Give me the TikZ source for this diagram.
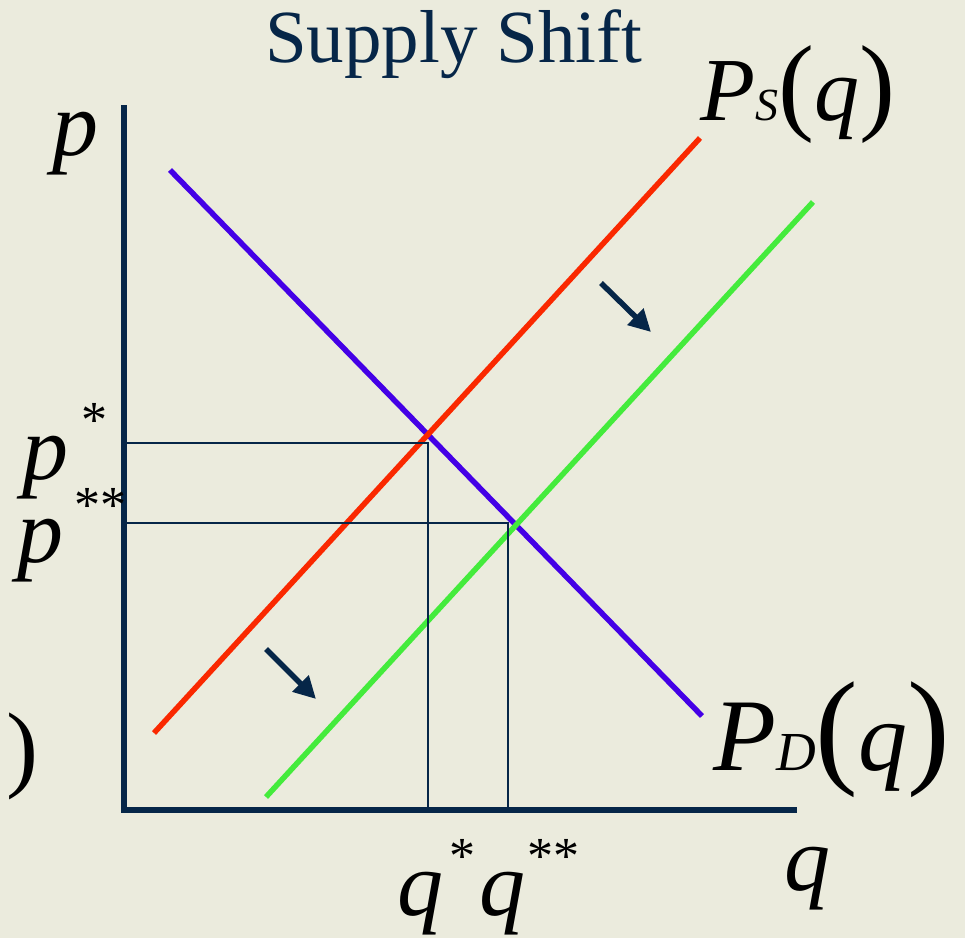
\documentclass[tikz,border=0pt]{standalone}
\usepackage{fontspec}
\setmainfont{Liberation Serif}
\usetikzlibrary{arrows.meta}

\definecolor{bgcol}{RGB}{235,235,221}
\definecolor{navy}{RGB}{6,38,72}
\definecolor{dcol}{RGB}{68,0,230}
\definecolor{scol}{RGB}{250,40,0}
\definecolor{snew}{RGB}{68,235,60}

\begin{document}
\begin{tikzpicture}[x=1pt, y=-1pt,
  axis/.style={navy, line width=6.5pt},
  guide/.style={navy, line width=2.2pt},
  curve/.style={line width=5.5pt},
  shiftarr/.style={navy, line width=5.5pt, -{Triangle[length=22pt,width=22pt]}},
  lbl/.style={inner sep=0pt, anchor=base west, font=\fontsize{92}{92}\selectfont\itshape},
  star/.style={inner sep=0pt, anchor=base west, font=\fontsize{52}{52}\selectfont},
]
% Background
\fill[bgcol] (0,0) rectangle (965,938);
\useasboundingbox (0,0) rectangle (965,938);

% Title
\node[inner sep=0pt, anchor=base west, text=navy, font=\fontsize{75}{75}\selectfont]
  (title) at (265,62) {Supply Shift};

% Axes
\coordinate (O) at (124,810);
\coordinate (ytop) at (124,105);
\coordinate (xend) at (797,810);
\draw[axis] (ytop) -- (124,813);
\draw[axis] (121,810) -- (xend);

% Curves
\coordinate (d1) at (170,170);
\coordinate (d2) at (702,716);
\coordinate (s1) at (154,733);
\coordinate (s2) at (700,138);
\coordinate (n1) at (266,797);
\coordinate (n2) at (813,202);
\draw[curve, dcol] (d1) -- (d2);
\draw[curve, scol] (s1) -- (s2);
\draw[curve, snew] (n1) -- (n2);

% Equilibria
\coordinate (E1) at (428,443);
\coordinate (E2) at (508,523);
\draw[guide] (O |- E1) -- (E1) -- (E1 |- O);
\draw[guide] (O |- E2) -- (E2) -- (E2 |- O);

% Shift arrows
\coordinate (a1) at (601,283);
\coordinate (b1) at (651,332);
\coordinate (a2) at (266,649);
\coordinate (b2) at (316,699);
\draw[shiftarr] (a1) -- (b1);
\draw[shiftarr] (a2) -- (b2);

% Labels
\node[lbl] (plbl) at (52,155) {p};
\node[lbl] (pstar) at (22,479) {p};
\node[star] (pst) at (81,437) {*};
\node[lbl] (pstar2) at (17,562) {p};
\node[star] (pst2) at (74,522) {**};
\node[lbl] (qstar) at (397,915) {q};
\node[star] (qst) at (449,873) {*};
\node[lbl] (qstar2) at (479,915) {q};
\node[star] (qst2) at (527,873) {**};
\node[lbl] (qlbl) at (784,890) {q};
\node[inner sep=0pt, anchor=base west, font=\fontsize{96}{96}\selectfont] (rpar) at (6,779) {)};

\node[inner sep=0pt, anchor=base west] (Slbl) at (700,120)
  {\fontsize{90}{90}\selectfont\itshape P\fontsize{46}{46}\selectfont S\upshape\fontsize{108}{108}\selectfont(\fontsize{90}{90}\selectfont\itshape q\upshape\fontsize{108}{108}\selectfont)};
\node[inner sep=0pt, anchor=base west] (Dlbl) at (713,770)
  {\fontsize{103}{103}\selectfont\itshape P\fontsize{55}{55}\selectfont D\upshape\fontsize{128}{128}\selectfont(\fontsize{98}{98}\selectfont\itshape q\upshape\fontsize{128}{128}\selectfont)};
\end{tikzpicture}
\end{document}
